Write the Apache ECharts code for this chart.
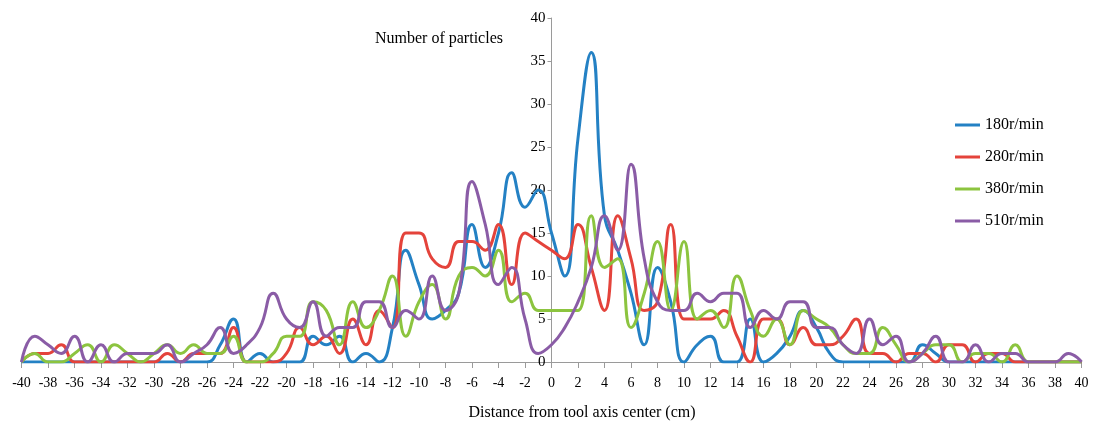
<!DOCTYPE html>
<html><head><meta charset="utf-8">
<script src="https://cdn.jsdelivr.net/npm/echarts@6/dist/echarts.min.js"></script>
<style>html,body{margin:0;padding:0;background:#fff}#c{width:1101px;height:426px}</style>
</head><body><div id="c"></div>
<script>
const xValues = [-40,-39,-38,-37,-36,-35,-34,-33,-32,-31,-30,-29,-28,-27,-26,-25,-24,-23,-22,-21,-20,-19,-18,-17,-16,-15,-14,-13,-12,-11,-10,-9,-8,-7,-6,-5,-4,-3,-2,-1,0,1,2,3,4,5,6,7,8,9,10,11,12,13,14,15,16,17,18,19,20,21,22,23,24,25,26,27,28,29,30,31,32,33,34,35,36,37,38,39,40];
const seriesNames = ['180r/min','280r/min','380r/min','510r/min'];
const s180 = [0,0,0,0,0,0,0,0,0,0,0,0,0,0,0,2,5,0,1,0,0,0,3,2,3,0,1,0,4,13,9,5,6,8,16,11,15,22,18,20,15,10,26,36,17,13,8,2,11,7,0,2,3,0,0,5,0,1,3,6,4,1,0,0,0,0,0,0,2,1,0,0,0,0,0,0,0,0,0,0,0];
const s280 = [0,1,1,2,0,0,0,0,0,0,0,1,0,1,1,1,4,0,0,0,1,4,2,3,1,5,2,6,4,15,15,12,11,14,14,13,16,9,15,14,13,12,16,11,6,17,12,6,7,16,5,5,5,6,3,0,5,5,2,4,2,2,3,5,1,1,0,1,1,0,2,2,0,1,1,0,0,0,0,0,0];
const s380 = [0,1,0,0,1,2,0,2,1,0,1,2,1,2,1,1,3,0,0,1,3,3,7,6,2,7,4,6,10,3,7,9,5,10,11,10,13,7,8,6,6,6,6,17,11,12,4,8,14,6,14,5,6,4,10,6,3,5,2,6,5,4,2,1,1,4,2,0,1,2,2,0,1,1,0,2,0,0,0,0,0];
const s510 = [0,3,2,1,3,0,2,0,1,1,1,2,0,1,2,4,1,2,4,8,5,4,7,3,4,4,7,7,4,6,5,10,6,8,21,16,9,11,5,1,2,4,7,11,17,13,23,12,7,6,6,8,7,8,8,4,6,5,7,7,4,4,2,1,5,2,3,0,1,3,0,0,2,0,1,1,0,0,0,1,0];
const yTicks = [0,5,10,15,20,25,30,35,40];

const colors = ['#2481c4','#e4433b','#8cc43f','#8a5ca6'];
const allSeries = [s180, s280, s380, s510];
const font = 'Liberation Serif, Times New Roman, serif';

const gridLeft = 21.5, gridRight = 19.5;
const plotW = 1101 - gridLeft - gridRight;
const zeroOffset = plotW / 2;

const chart = echarts.init(document.getElementById('c'));
chart.setOption({
  animation: false,
  color: colors,
  title: [
    {text: 'Number of particles', left: 370, top: 26, textStyle: {fontFamily: font, fontSize: 16, fontWeight: 'normal', color: '#000'}},
    {text: 'Distance from tool axis center (cm)', left: 577, top: 400, textAlign: 'center', textStyle: {fontFamily: font, fontSize: 16, fontWeight: 'normal', color: '#000'}}
  ],
  legend: {
    orient: 'vertical', left: 950, top: 112, itemWidth: 25, itemHeight: 3, itemGap: 16,
    icon: 'rect',
    textStyle: {fontFamily: font, fontSize: 16, color: '#000'},
    data: seriesNames
  },
  grid: {left: gridLeft, right: gridRight, top: 18, bottom: 64, containLabel: false},
  xAxis: {
    type: 'value', min: -40, max: 40, interval: 2,
    axisLine: {lineStyle: {color: '#9a9a9a'}},
    axisTick: {show: true, length: 6, lineStyle: {color: '#9a9a9a'}},
    axisLabel: {color: '#000', fontFamily: font, fontSize: 14, margin: 14},
    splitLine: {show: false}
  },
  yAxis: {
    type: 'value', min: 0, max: 40, interval: 5, position: 'left', offset: -zeroOffset,
    axisLine: {show: true, onZero: false, lineStyle: {color: '#9a9a9a'}},
    axisTick: {show: true, length: 4, lineStyle: {color: '#9a9a9a'}},
    axisLabel: {color: '#000', fontFamily: font, fontSize: 15, margin: 6,
      formatter: v => yTicks.includes(v) ? String(v) : ''},
    splitLine: {show: false}
  },
  series: allSeries.map((arr, i) => ({
    name: seriesNames[i], type: 'line', smooth: 0.5, symbol: 'none', showSymbol: false,
    lineStyle: {width: 3, color: colors[i]},
    data: xValues.map((x, j) => [x, arr[j]]),
    z: 2 + i
  }))
});
</script></body></html>
